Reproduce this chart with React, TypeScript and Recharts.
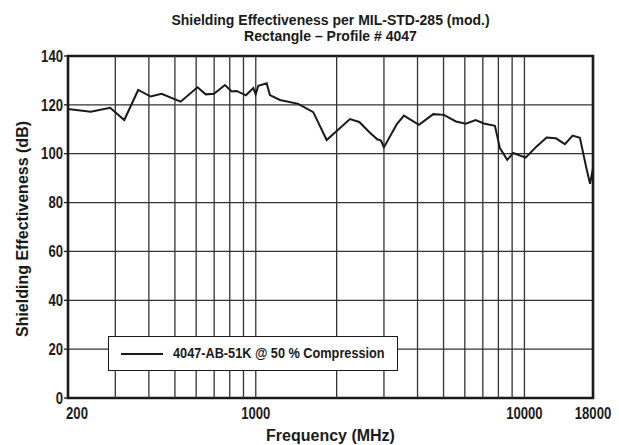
import React from "react";
import {
  LineChart,
  Line,
  XAxis,
  YAxis,
  CartesianGrid,
  ReferenceLine,
  ReferenceArea,
  Label,
} from "recharts";

// frequency (MHz) and shielding effectiveness (dB)
const FREQS = [
  200, 243, 287, 324, 365, 406, 446, 525, 607, 651, 699, 768, 813, 849, 919,
  979, 999, 1022, 1098, 1129, 1230, 1439, 1637, 1836, 2241, 2428, 2661, 2832,
  2923, 2999, 3345, 3561, 4049, 4579, 5015, 5559, 6055, 6581, 7066, 7766, 8104,
  8630, 9085, 10102, 11102, 12094, 13100, 14150, 15114, 16087, 17000, 17550,
  18000,
];
const SE_DB = [
  118.3, 117.2, 118.8, 113.8, 126.1, 123.4, 124.5, 121.3, 127.2, 124.3, 124.5,
  128.1, 125.5, 125.7, 123.9, 126.9, 124.3, 127.8, 128.8, 124, 122, 120.4, 117,
  105.6, 114.2, 113, 108.6, 105.9, 105.4, 102.6, 112, 115.6, 111.8, 116.2,
  115.9, 113.2, 112.3, 113.8, 112.4, 111.4, 102.3, 97.5, 100.3, 98.4, 103,
  106.6, 106.3, 103.9, 107.4, 106.5, 94.2, 87.7, 94,
];

const X_TICKS = [200, 1000, 10000, 18000];
const X_GRID = [
  300, 400, 500, 600, 700, 800, 900, 1000, 2000, 3000, 4000, 5000, 6000, 7000,
  8000, 9000, 10000,
];
const Y_TICKS = [0, 20, 40, 60, 80, 100, 120, 140];

const SERIES_NAME = "4047-AB-51K @ 50 % Compression";

const data = FREQS.map((f, i) => ({ f, se: SE_DB[i] }));

const SANS = '"Liberation Sans", Arial, Helvetica, sans-serif';
const INK = "#1a1a1a";
// condensed look: regular bold face squeezed horizontally
const SQUEEZE = 0.82;

const XTick = (props: any) => {
  const { x, y, payload } = props;
  const dx = payload.value === 200 ? 9 : 0;
  return (
    <g transform={`translate(${x + dx},${y}) scale(${SQUEEZE},1)`}>
      <text
        x={0}
        y={0}
        dy="0.71em"
        textAnchor="middle"
        fontFamily={SANS}
        fontWeight="bold"
        fontSize={16}
        fill={INK}
      >
        {payload.value}
      </text>
    </g>
  );
};

const YTick = (props: any) => {
  const { x, y, payload } = props;
  return (
    <g transform={`translate(${x},${y}) scale(${SQUEEZE},1)`}>
      <text
        x={0}
        y={0}
        dy="0.36em"
        textAnchor="end"
        fontFamily={SANS}
        fontWeight="bold"
        fontSize={16}
        fill={INK}
      >
        {payload.value}
      </text>
    </g>
  );
};

export default function App() {
  return (
    <div style={{ position: "absolute", left: 0, top: 0, width: 619, height: 445, background: "#fff" }}>
      <div
        style={{
          position: "absolute",
          left: 68,
          width: 525,
          top: 12,
          textAlign: "center",
          fontFamily: SANS,
          fontWeight: "bold",
          fontSize: 14,
          lineHeight: "16px",
          color: INK,
          zIndex: 2,
        }}
      >
        <div>Shielding Effectiveness per MIL-STD-285 (mod.)</div>
        <div>Rectangle – Profile # 4047</div>
      </div>
      <LineChart
        width={619}
        height={445}
        data={data}
        margin={{ top: 56, right: 26, left: 0, bottom: 0 }}
      >
        <CartesianGrid vertical={false} stroke="#333" strokeWidth={1.3} />
        {X_GRID.map((g) => (
          <ReferenceLine key={g} x={g} stroke="#333" strokeWidth={1.3} />
        ))}
        <XAxis
          dataKey="f"
          type="number"
          scale="log"
          domain={[200, 18000]}
          ticks={X_TICKS}
          allowDataOverflow
          height={47}
          tickLine={false}
          axisLine={false}
          tickSize={0}
          tickMargin={10}
          tick={<XTick />}
        >
          <Label
            value="Frequency (MHz)"
            position="insideBottom"
            offset={4}
            style={{ fontFamily: SANS, fontWeight: "bold", fontSize: 16, fill: INK }}
          />
        </XAxis>
        <YAxis
          type="number"
          domain={[0, 140]}
          ticks={Y_TICKS}
          width={68}
          axisLine={false}
          tickLine={{ stroke: INK, strokeWidth: 1.3 }}
          tickSize={4}
          tickMargin={1}
          tick={<YTick />}
        >
          <Label
            content={() => (
              <text
                x={22}
                y={229}
                transform="rotate(-90 22 229)"
                textAnchor="middle"
                dominantBaseline="central"
                fontFamily={SANS}
                fontWeight="bold"
                fontSize={16}
                fill={INK}
              >
                Shielding Effectiveness (dB)
              </text>
            )}
          />
        </YAxis>
        <ReferenceArea
          x1={200}
          x2={18000}
          y1={0}
          y2={140}
          fill="none"
          stroke={INK}
          strokeWidth={2.6}
        />
        <Line
          type="linear"
          dataKey="se"
          name={SERIES_NAME}
          stroke={INK}
          strokeWidth={2}
          dot={false}
          isAnimationActive={false}
        />
      </LineChart>
      {/* legend box */}
      <div
        style={{
          position: "absolute",
          left: 108,
          top: 336,
          boxSizing: "border-box",
          width: 290,
          height: 35,
          border: "1.5px solid " + INK,
          background: "#fff",
          overflow: "hidden",
        }}
      >
        <div
          style={{
            position: "absolute",
            left: 12,
            top: 15.5,
            width: 42,
            height: 2,
            background: INK,
          }}
        />
        <span
          style={{
            position: "absolute",
            left: 64,
            top: 7,
            lineHeight: "18px",
            whiteSpace: "nowrap",
            transform: `scaleX(${SQUEEZE})`,
            transformOrigin: "left center",
            fontFamily: SANS,
            fontWeight: "bold",
            fontSize: 15.5,
            color: INK,
          }}
        >
          {SERIES_NAME}
        </span>
      </div>
    </div>
  );
}
